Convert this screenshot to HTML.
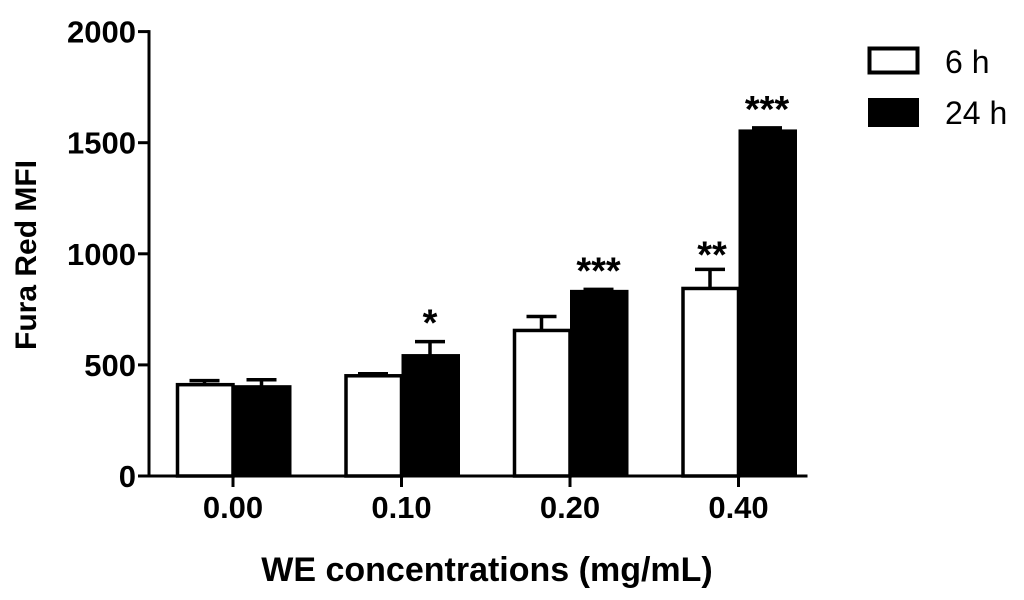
<!DOCTYPE html>
<html><head><meta charset="utf-8"><style>
body{margin:0;background:#fff;}
svg{display:block;font-family:"Liberation Sans",Arial,sans-serif;}
</style></head><body>
<svg id="chart" width="1024" height="600" viewBox="0 0 1024 600">
<g id="axes"></g><g id="bars"></g>
<text x="36" y="255" transform="rotate(-90 36 255)" text-anchor="middle" font-size="30" font-weight="bold">Fura Red MFI</text>
<text x="487" y="581" text-anchor="middle" font-size="34" font-weight="bold">WE concentrations (mg/mL)</text>
<g>
<rect x="869.5" y="48.5" width="48" height="24" fill="#fff" stroke="#000" stroke-width="4"/>
<text x="945" y="73" font-size="32">6 h</text>
<rect x="868" y="98" width="51" height="29" fill="#000"/>
<text x="945" y="124" font-size="32">24 h</text>
</g>
</svg>
<script>
const categories=["0.00","0.10","0.20","0.40"];
const values6h=[411,451,655,844];
const errors6h=[18,9,63,86];
const values24h=[402,542,831,1553];
const errors24h=[31,63,9,14];
const sig6h=["","","","**"];
const sig24h=["","*","***","***"];
const yTicks=[0,500,1000,1500,2000];
const NS="http://www.w3.org/2000/svg";
const y0=476,scale=0.2222,axisX=149,groupStart=233,groupStep=168.5,barW=57;
const Y=v=>y0-v*scale;
const X=i=>groupStart+i*groupStep;
function mk(tag,attrs,parent){const e=document.createElementNS(NS,tag);for(const k in attrs)e.setAttribute(k,attrs[k]);parent.appendChild(e);return e;}
const axes=document.getElementById('axes'),bars=document.getElementById('bars');
let a=mk('line',{x1:axisX,y1:Y(2000)-1.5,x2:axisX,y2:y0+1.5,stroke:'#000','stroke-width':3},axes);


a=mk('line',{x1:axisX-1.5,y1:y0,x2:X(3)+barW+12,y2:y0,stroke:'#000','stroke-width':3},axes);


yTicks.forEach(t=>{
 const l=mk('line',{x1:axisX-11,y1:Y(t),x2:axisX,y2:Y(t),stroke:'#000','stroke-width':3},axes);
 
 
 const tx=mk('text',{x:axisX-13,y:Y(t)+11,'text-anchor':'end','font-size':31,'font-weight':'bold'},axes);
 tx.textContent=t;
 
 
});
categories.forEach((c,i)=>{
 const x=X(i);
 const l=mk('line',{x1:x,y1:y0,x2:x,y2:y0+11,stroke:'#000','stroke-width':3},axes);
 
 
 const tx=mk('text',{x:x,y:y0+42,'text-anchor':'middle','font-size':31,'font-weight':'bold'},axes);
 tx.textContent=c;
 
 
 const wx=x-barW+1.5;
 const eb1=mk('path',{d:`M${x-barW/2} ${Y(values6h[i])} V${Y(values6h[i]+errors6h[i])} M${x-barW/2-15} ${Y(values6h[i]+errors6h[i])} H${x-barW/2+15}`,stroke:'#000','stroke-width':3.5,fill:'none'},bars);
 
 
 const r1=mk('rect',{x:wx,y:Y(values6h[i]),width:barW-1.5,height:y0-Y(values6h[i]),fill:'#fff',stroke:'#000','stroke-width':3.5},bars);
 
 
 const eb2=mk('path',{d:`M${x+barW/2} ${Y(values24h[i])} V${Y(values24h[i]+errors24h[i])} M${x+barW/2-15} ${Y(values24h[i]+errors24h[i])} H${x+barW/2+15}`,stroke:'#000','stroke-width':3.5,fill:'none'},bars);
 
 
 const r2=mk('rect',{x:x,y:Y(values24h[i])-1.5,width:barW+1.5,height:y0-Y(values24h[i])+1.5,fill:'#000'},bars);
 
 
 if(sig6h[i]){const s=mk('text',{x:x-barW/2+2,y:Y(values6h[i]+errors6h[i])-2,'text-anchor':'middle','font-size':38,'font-weight':'bold'},bars);s.textContent=sig6h[i];
  
  }
 if(sig24h[i]){const s=mk('text',{x:x+barW/2,y:Y(values24h[i]+errors24h[i])-6,'text-anchor':'middle','font-size':38,'font-weight':'bold'},bars);s.textContent=sig24h[i];
  
  }
});
</script>
</body></html>
